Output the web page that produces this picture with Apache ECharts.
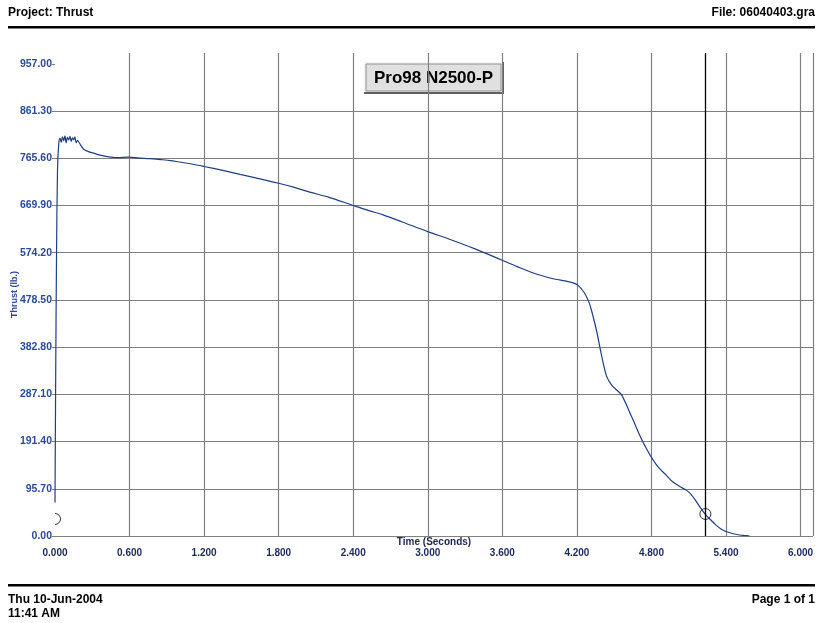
<!DOCTYPE html>
<html>
<head>
    <meta charset="utf-8">
    <title>Thrust</title>
    <script src="https://cdn.jsdelivr.net/npm/echarts@6/dist/echarts.min.js"></script>
    <style>
        body { margin: 0; background: #fff; }
        #main { width: 825px; height: 623px; }
    </style>
</head>
<body>
    <div id="main"></div>
    <script type="text/javascript">
        // time (s) / thrust (lb.)
        var time = [0, 0.005, 0.012, 0.02, 0.03, 0.04, 0.05, 0.06, 0.07, 0.08, 0.09, 0.10, 0.11, 0.12,
            0.13, 0.14, 0.15, 0.16, 0.17, 0.18, 0.2, 0.23, 0.27, 0.31, 0.36, 0.42, 0.5, 0.59, 0.68, 0.76,
            0.85, 0.93, 1.0, 1.1, 1.2, 1.35, 1.49, 1.65, 1.8, 1.92, 2.05, 2.2, 2.4, 2.52, 2.64, 2.8, 3.0,
            3.18, 3.38, 3.59, 3.72, 3.85, 4.0, 4.06, 4.12, 4.17, 4.21, 4.26, 4.30, 4.32, 4.36, 4.40, 4.44,
            4.48, 4.52, 4.56, 4.64, 4.73, 4.84, 4.92, 4.97, 5.03, 5.08, 5.12, 5.16, 5.23, 5.28, 5.32, 5.36,
            5.40, 5.45, 5.51, 5.55, 5.59];
        var thrust = [68, 300, 560, 740, 795, 806, 798, 809, 801, 811, 797, 808, 803, 810,
            800, 807, 803, 809, 797, 802, 795, 784, 779, 776, 772, 769, 767, 768, 766, 765,
            763, 761, 758, 754, 749, 741, 733, 724, 715, 707, 697, 687, 670, 660, 651, 636, 617,
            601, 582, 560, 546, 533, 522, 519, 516, 513, 508, 493, 472, 455, 414, 364, 323,
            306, 296, 286, 242, 191, 144, 123, 110, 100, 93, 84, 70, 45, 32, 22, 14,
            9, 5, 2, 1, 0];

        // burn start / end markers
        var markTime = [0, 5.234];
        var markThrust = [34.5, 44.6];
        var cursorTime = 5.234;

        // tick values
        var yTicks = [0, 95.7, 191.4, 287.1, 382.8, 478.5, 574.2, 669.9, 765.6, 861.3, 957.0];
        var xTicks = [0, 0.6, 1.2, 1.8, 2.4, 3.0, 3.6, 4.2, 4.8, 5.4, 6.0];

        var font = 'Arial, "Liberation Sans", sans-serif';
        var points = time.map(function (t, i) { return [t, thrust[i]]; });
        var marks = markTime.map(function (t, i) { return [t, markThrust[i]]; });

        var myChart = echarts.init(document.getElementById('main'));
        var option = {
            animation: false,
            backgroundColor: '#fff',
            grid: { left: 55, right: 12, top: 53, bottom: 87, outerBoundsMode: 'none', containLabel: false },
            xAxis: {
                type: 'value',
                min: 0,
                max: 6.1,
                interval: 0.6,
                name: 'Time (Seconds)',
                nameLocation: 'middle',
                nameGap: 1,
                nameMoveOverlap: false,
                nameTextStyle: { fontFamily: font, fontWeight: 'bold', fontSize: 10, color: '#1a2550' },
                axisLine: { show: false },
                axisTick: { show: false },
                axisLabel: {
                    margin: 12,
                    customValues: xTicks,
                    fontFamily: font, fontWeight: 'bold', fontSize: 10, color: '#1a2a5a',
                    formatter: function (v) { return v.toFixed(3); }
                },
                splitLine: { show: true, showMinLine: false, lineStyle: { color: '#808080', width: 1.2 } }
            },
            yAxis: {
                type: 'value',
                min: 0,
                max: 979,
                interval: 95.7,
                name: 'Thrust (lb.)',
                nameLocation: 'middle',
                nameGap: 36,
                nameMoveOverlap: false,
                nameTextStyle: { fontFamily: font, fontWeight: 'bold', fontSize: 9, color: '#2a4a9a' },
                axisLine: { show: false },
                axisTick: { show: true, length: 3, customValues: yTicks, lineStyle: { color: '#808080' } },
                axisLabel: {
                    margin: 3,
                    customValues: yTicks,
                    fontFamily: font, fontWeight: 'bold', fontSize: 10.5, color: '#2a4a9a',
                    formatter: function (v) { return v.toFixed(2); }
                },
                splitLine: { show: true, showMaxLine: false, lineStyle: { color: '#808080', width: 1.2 } }
            },
            series: [
                {
                    type: 'line',
                    data: points,
                    showSymbol: false,
                    smooth: 0.3,
                    lineStyle: { color: '#1f3f80', width: 1.2 },
                    markLine: {
                        silent: true,
                        symbol: 'none',
                        label: { show: false },
                        lineStyle: { color: '#000', width: 1.3, type: 'solid' },
                        data: [{ xAxis: cursorTime }]
                    }
                },
                {
                    type: 'custom',
                    clip: true,
                    data: marks,
                    renderItem: function (params, api) {
                        var p = api.coord([api.value(0), api.value(1)]);
                        return {
                            type: 'circle',
                            shape: { cx: p[0], cy: p[1], r: 5.5 },
                            style: { fill: 'none', stroke: '#333', lineWidth: 1 }
                        };
                    }
                }
            ],
            graphic: [
                { type: 'text', left: 8, top: 7, style: { text: 'Project: Thrust', font: 'bold 12px ' + font, fill: '#000' } },
                { type: 'text', right: 10, top: 7, style: { text: 'File: 06040403.gra', font: 'bold 12px ' + font, fill: '#000' } },
                { type: 'rect', shape: { x: 8, y: 26, width: 807, height: 2.5 }, style: { fill: '#000' } },
                { type: 'rect', shape: { x: 8, y: 584, width: 807, height: 2.5 }, style: { fill: '#000' } },
                { type: 'text', left: 8, top: 594, style: { text: 'Thu 10-Jun-2004', font: 'bold 12px ' + font, fill: '#000' } },
                { type: 'text', left: 8, top: 608, style: { text: '11:41 AM', font: 'bold 12px ' + font, fill: '#000' } },
                { type: 'text', right: 10, top: 594, style: { text: 'Page 1 of 1', font: 'bold 12px ' + font, fill: '#000' } },
                // legend box
                { type: 'rect', shape: { x: 364, y: 62, width: 140, height: 32 }, style: { fill: '#606060' } },
                { type: 'rect', shape: { x: 364, y: 62, width: 138, height: 30 }, style: { fill: '#f4f4f4' } },
                { type: 'rect', shape: { x: 366, y: 64, width: 135, height: 27 }, style: { fill: '#e0e0e0', stroke: '#909090', lineWidth: 1 } },
                {
                    type: 'text', x: 433.5, y: 78,
                    style: { text: 'Pro98 N2500-P', font: 'bold 17px ' + font, fill: '#000', align: 'center', verticalAlign: 'middle' }
                }
            ]
        };
        myChart.setOption(option);
    </script>
</body>
</html>
